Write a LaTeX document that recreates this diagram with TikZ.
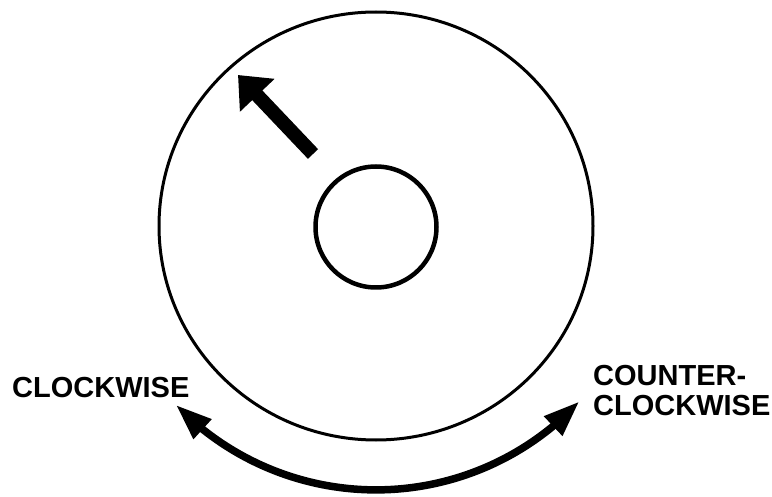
\documentclass[tikz,border=0pt]{standalone}
\usepackage{fontspec}
\setmainfont{Liberation Sans}
\usetikzlibrary{arrows.meta,bending}
\tikzset{
  lbl/.style={font=\bfseries\fontsize{29}{30}\selectfont, inner sep=0pt, anchor=base west},
  disc/.style={draw=black, line width=3pt},
  hub/.style={draw=black, line width=4.5pt},
  bigarrow/.style={line width=14pt, -{Triangle[length=28pt,width=46pt]}},
  turn/.style={line width=7.5pt, {Triangle[length=36pt,width=25pt,flex]}-{Triangle[length=36pt,width=25pt,flex]}}
}
\begin{document}
\begin{tikzpicture}[x=1pt,y=-1pt]
  \useasboundingbox (0,0) rectangle (772,497);
  \coordinate (ctr) at (376,226);
  \draw[disc] (ctr) ellipse [x radius=217, y radius=214];
  \draw[hub] (376,227) circle [radius=60.5];
  \coordinate (tail) at (313,154);
  \coordinate (tip) at (238,75);
  \draw[bigarrow] (tail) -- (tip);
  \coordinate (arcstart) at (176,405);
  \draw[turn] (arcstart) arc [start angle=136, end angle=43, radius=278];
  \node[lbl] (cw) at (12,398) {CLOCKWISE};
  \node[lbl] (ccw1) at (593,385) {COUNTER-};
  \node[lbl] (ccw2) at (593,415) {CLOCKWISE};
\end{tikzpicture}
\end{document}
